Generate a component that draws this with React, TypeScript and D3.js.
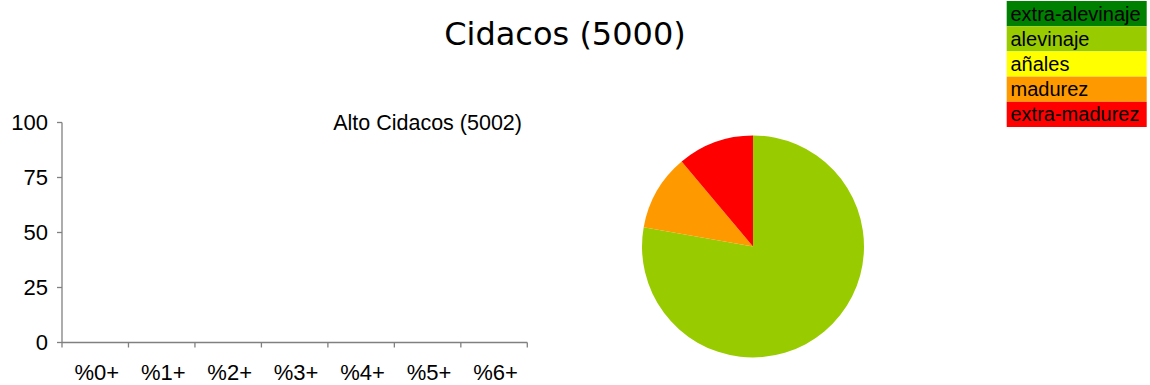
import React from "react";
import * as d3 from "d3";

const title = "Cidacos (5000)";
const subTitle = "Alto Cidacos (5002)";
const ageClasses = ["%0+", "%1+", "%2+", "%3+", "%4+", "%5+", "%6+"];
const yTicks = [0, 25, 50, 75, 100];
const stageNames = ["extra-alevinaje", "alevinaje", "añales", "madurez", "extra-madurez"];
const stageColors = ["#008000", "#99CC00", "#FFFF00", "#FF9900", "#FF0000"];
const stageValues = [0, 7, 0, 1, 1];

const W = 1150;
const H = 385;
const FONT = "'Liberation Sans', Arial, sans-serif";

export default function App() {
  const x = d3.scaleBand().domain(ageClasses).range([62, 527.3]).padding(0);
  const y = d3.scaleLinear().domain([0, 100]).range([342.5, 122.5]);
  const pie = d3.pie<number>().sort(null).startAngle(0).endAngle(2 * Math.PI);
  const arcs = pie(stageValues);
  const arc = d3.arc<d3.PieArcDatum<number>>().innerRadius(0).outerRadius(111);
  const legendScale = d3.scaleBand().domain(stageNames).range([1, 127]).padding(0);
  const tickEdges = [...ageClasses.map((c) => x(c) as number), 527.3];

  return (
    <svg width={W} height={H} style={{ position: "absolute", left: 0, top: 0 }}>
      <rect x={0} y={0} width={W} height={H} fill="#fff" />
      <text x={565} y={45} textAnchor="middle" fontFamily="'DejaVu Sans', Verdana, sans-serif" fontSize={32} fill="#000">
        {title}
      </text>

      {/* axes */}
      <g stroke="#808080" strokeWidth={1.3} fill="none">
        <line x1={62} x2={62} y1={y(100)} y2={y(0)} />
        <line x1={62} x2={527.3} y1={y(0)} y2={y(0)} />
        {yTicks.map((t) => (
          <line key={t} x1={57} x2={62} y1={y(t)} y2={y(t)} />
        ))}
        {tickEdges.map((e, i) => (
          <line key={i} x1={e} x2={e} y1={y(0)} y2={y(0) + 5} />
        ))}
      </g>
      {yTicks.map((t) => (
        <text key={t} x={48} y={y(t)} dy="0.36em" textAnchor="end" fontFamily={FONT} fontSize={22} fill="#000">
          {t}
        </text>
      ))}
      {ageClasses.map((c) => (
        <text key={c} x={(x(c) as number) + x.bandwidth() / 2 + 1.5} y={379.5} textAnchor="middle" fontFamily={FONT} fontSize={22} fill="#000">
          {c}
        </text>
      ))}
      <text x={522} y={130} textAnchor="end" fontFamily={FONT} fontSize={21.5} fill="#000">
        {subTitle}
      </text>

      {/* pie */}
      <g transform="translate(753,246.5)">
        {arcs.map((a, i) =>
          a.value > 0 ? <path key={i} d={arc(a) as string} fill={stageColors[i]} /> : null
        )}
      </g>

      {/* legend */}
      {stageNames.map((n, i) => (
        <g key={n}>
          <rect x={1006.7} y={legendScale(n)} width={140} height={legendScale.bandwidth()} fill={stageColors[i]} />
          <text x={1010.5} y={(legendScale(n) as number) + 19.5} fontFamily={FONT} fontSize={20} fill="#000">
            {n}
          </text>
        </g>
      ))}
    </svg>
  );
}
